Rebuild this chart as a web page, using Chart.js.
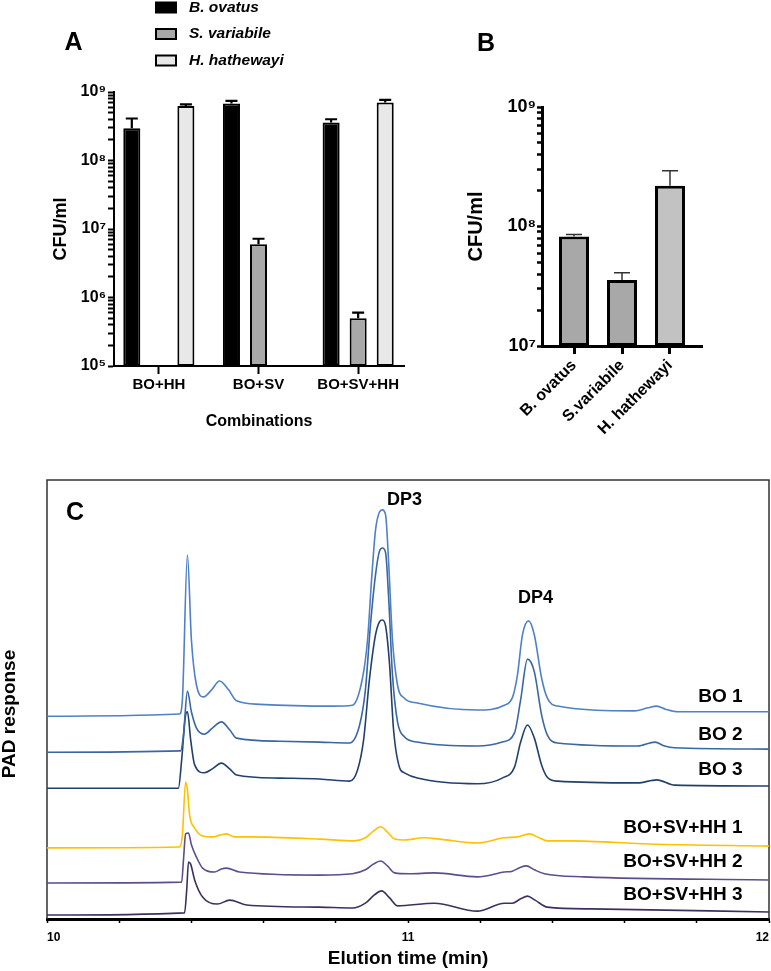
<!DOCTYPE html>
<html>
<head>
<meta charset="utf-8">
<script src="https://cdn.jsdelivr.net/npm/chart.js@4.4.1/dist/chart.umd.min.js"></script>
<style>
  html, body { margin: 0; padding: 0; background: #fff; }
  body { width: 771px; height: 971px; position: relative; overflow: hidden; }
  canvas { position: absolute; }
</style>
</head>
<body>
<canvas id="chartA" width="420" height="440" style="left:0;top:0;width:420px;height:440px"></canvas>
<canvas id="chartB" width="351" height="470" style="left:420px;top:0;width:351px;height:470px"></canvas>
<canvas id="chartC" width="771" height="501" style="left:0;top:470px;width:771px;height:501px"></canvas>
<script>
const FONT = "'Liberation Sans', Arial, Helvetica, sans-serif";

// ---- Panel A: co-cultures ----
const combinations = ['BO+HH', 'BO+SV', 'BO+SV+HH'];
const speciesNames = ['B. ovatus', 'S. variabile', 'H. hathewayi'];
const ovatusCfu = [2.95e8, 6.8e8, 3.6e8];
const ovatusErr = [4.1e8, 7.4e8, 4.0e8];
const variabileCfu = [null, 6.0e6, 4.97e5];
const variabileErr = [null, 7.2e6, 6.0e5];
const hathewayiCfu = [6.25e8, null, 7.0e8];
const hathewayiErr = [6.6e8, null, 7.7e8];
const decadesA = [1e5, 1e6, 1e7, 1e8, 1e9];
const decadeLabelsA = ['10⁵', '10⁶', '10⁷', '10⁸', '10⁹'];

// ---- Panel B: mono-cultures ----
const monoNames = ['B. ovatus', 'S.variabile', 'H. hathewayi'];
const monoCfu = [8.24e7, 3.57e7, 2.19e8];
const monoErr = [8.57e7, 4.11e7, 2.93e8];
const decadesB = [1e7, 1e8, 1e9];
const decadeLabelsB = ['10⁷', '10⁸', '10⁹'];

// ---- Panel C: HPAEC-PAD traces [time (min), response] ----
const traceNames = ['BO 1', 'BO 2', 'BO 3', 'BO+SV+HH 1', 'BO+SV+HH 2', 'BO+SV+HH 3'];
const traceBO1 = [[10.000,46.2],[10.367,46.7],[10.375,49.9],[10.389,82.9],[10.400,63.6],[10.414,53.3],[10.434,50.6],[10.456,52.2],[10.478,54.2],[10.503,52.2],[10.525,49.7],[10.589,48.9],[10.791,48.5],[10.846,48.7],[10.874,54.9],[10.888,63.6],[10.899,77.2],[10.910,88.6],[10.921,92.7],[10.929,93.2],[10.938,92.0],[10.946,81.8],[10.957,63.6],[10.971,53.3],[10.990,50.3],[11.026,49.2],[11.192,47.6],[11.267,48.7],[11.290,50.6],[11.303,55.5],[11.317,64.7],[11.334,67.9],[11.350,64.7],[11.370,54.9],[11.386,50.3],[11.414,48.5],[11.628,47.4],[11.664,48.1],[11.689,48.5],[11.713,47.8],[11.747,47.2],[12.000,47.2]];
const traceBO2 = [[10.000,38.0],[10.370,38.3],[10.378,41.9],[10.389,51.9],[10.400,47.2],[10.414,43.5],[10.436,42.1],[10.458,43.5],[10.483,44.9],[10.506,43.1],[10.525,41.2],[10.644,40.5],[10.755,40.3],[10.838,40.1],[10.866,44.2],[10.882,52.2],[10.896,67.0],[10.910,78.4],[10.921,83.8],[10.929,84.5],[10.938,83.4],[10.946,73.8],[10.957,55.6],[10.971,44.9],[10.990,41.5],[11.026,40.3],[11.192,39.4],[11.261,40.3],[11.295,42.4],[11.312,49.9],[11.331,59.2],[11.350,56.3],[11.370,46.5],[11.386,41.9],[11.414,40.1],[11.636,39.4],[11.684,40.3],[11.711,39.4],[11.739,39.0],[12.000,38.7]];
const traceBO3 = [[10.000,29.8],[10.364,29.8],[10.373,36.2],[10.384,46.5],[10.389,47.2],[10.398,40.8],[10.409,35.1],[10.436,33.3],[10.458,34.2],[10.483,35.5],[10.506,34.2],[10.525,32.8],[10.644,32.1],[10.755,31.9],[10.838,31.4],[10.860,33.9],[10.877,40.8],[10.893,54.4],[10.910,64.7],[10.921,67.7],[10.929,68.1],[10.938,66.7],[10.949,57.9],[10.960,43.1],[10.977,34.4],[10.990,33.3],[11.026,32.1],[11.192,30.8],[11.261,32.1],[11.295,34.6],[11.312,40.3],[11.331,44.2],[11.350,41.2],[11.370,35.1],[11.386,32.3],[11.414,31.4],[11.636,31.0],[11.689,31.7],[11.739,30.5],[12.000,30.3]];
const traceMix1 = [[10.000,16.2],[10.367,16.4],[10.375,19.1],[10.384,31.2],[10.389,29.4],[10.395,23.7],[10.409,20.7],[10.431,18.9],[10.458,18.7],[10.478,19.1],[10.497,19.4],[10.519,18.7],[10.561,18.7],[10.755,18.2],[10.852,17.8],[10.882,18.5],[10.904,20.0],[10.924,21.0],[10.943,19.8],[10.963,18.2],[10.990,18.0],[11.046,18.5],[11.087,18.2],[11.192,17.3],[11.267,18.5],[11.303,18.7],[11.336,19.4],[11.363,18.5],[11.386,17.8],[11.447,17.8],[11.669,17.1],[12.000,16.6]];
const traceMix2 = [[10.000,8.2],[10.373,8.4],[10.378,13.4],[10.384,19.4],[10.392,19.6],[10.400,16.9],[10.414,14.1],[10.431,11.6],[10.464,10.7],[10.483,11.4],[10.497,11.6],[10.533,10.7],[10.755,10.0],[10.846,10.3],[10.882,11.2],[10.904,12.5],[10.924,13.2],[10.943,12.1],[10.963,10.5],[11.004,10.3],[11.073,10.5],[11.192,9.6],[11.267,10.7],[11.289,10.9],[11.312,11.8],[11.328,12.1],[11.350,11.2],[11.378,10.3],[11.489,9.6],[12.000,8.9]];
const traceMix3 = [[10.000,0.9],[10.381,1.4],[10.387,6.6],[10.392,13.0],[10.398,12.5],[10.409,8.9],[10.431,5.0],[10.472,3.4],[10.506,4.3],[10.553,3.2],[10.755,2.7],[10.846,2.5],[10.882,3.6],[10.907,5.5],[10.927,6.4],[10.949,4.8],[10.971,3.0],[11.073,3.6],[11.192,1.8],[11.267,3.6],[11.289,3.6],[11.312,4.6],[11.331,5.2],[11.352,4.3],[11.386,2.7],[11.508,2.3],[12.000,1.6]];
const elutionTicks = [10, 10.2, 10.4, 10.6, 10.8, 11, 11.2, 11.4, 11.6, 11.8, 12];
const elutionTickLabels = ['10', '', '', '', '', '11', '', '', '', '', '12'];

// where the series names sit (right edge, in data units)
const traceLabelTime = 11.927;
const traceLabelResp = [50.6, 41.9, 33.9, 20.7, 13.0, 5.5];

function logTicks(decades) {
  const out = [];
  decades.forEach((d, i) => {
    if (i === decades.length - 1) { out.push({value: d}); return; }
    for (let k = 1; k < 10; k++) out.push({value: d * k});
  });
  return out;
}

function asPoints(values) {
  return values.map((v, i) => ({x: i, y: v}));
}

// vertical error bars, only the upper half like in the figure
const errorBars = {
  id: 'errorBars',
  afterDatasetsDraw(chart, args, opts) {
    const ctx = chart.ctx;
    const yScale = chart.scales.y;
    chart.data.datasets.forEach((ds, di) => {
      if (!ds.errorTop) return;
      const meta = chart.getDatasetMeta(di);
      meta.data.forEach((bar, i) => {
        const top = ds.errorTop[i];
        if (top == null || ds.data[i].y == null) return;
        const yTop = yScale.getPixelForValue(top);
        ctx.save();
        ctx.strokeStyle = opts.color;
        ctx.lineWidth = opts.width;
        ctx.beginPath();
        ctx.moveTo(bar.x, bar.y);
        ctx.lineTo(bar.x, yTop);
        ctx.moveTo(bar.x - opts.cap / 2, yTop);
        ctx.lineTo(bar.x + opts.cap / 2, yTop);
        ctx.stroke();
        ctx.restore();
      });
    });
  }
};

// panel letters, legend boxes, frame and free labels
const decor = {
  id: 'decor',
  beforeDatasetsDraw(chart, args, opts) {
    if (!opts.frame) return;
    const {left, right, top, bottom} = chart.chartArea;
    const ctx = chart.ctx;
    ctx.save();
    ctx.strokeStyle = opts.frame.color;
    ctx.lineWidth = opts.frame.width;
    ctx.beginPath();
    ctx.moveTo(left, bottom);
    ctx.lineTo(left, top);
    ctx.lineTo(right, top);
    ctx.lineTo(right, bottom);
    ctx.stroke();
    ctx.restore();
  },
  afterDraw(chart, args, opts) {
    const ctx = chart.ctx;
    if (opts.legend) {
      const lg = opts.legend;
      chart.data.datasets.forEach((ds, i) => {
        const cy = lg.y + i * lg.step;
        ctx.save();
        ctx.fillStyle = '#000';
        ctx.fillRect(lg.x, cy - lg.h / 2, lg.w, lg.h);
        ctx.fillStyle = ds.backgroundColor;
        ctx.fillRect(lg.x + lg.border, cy - lg.h / 2 + lg.border, lg.w - 2 * lg.border, lg.h - 2 * lg.border);
        ctx.fillStyle = '#000';
        ctx.font = lg.font;
        ctx.textAlign = 'left';
        ctx.textBaseline = 'middle';
        ctx.fillText(ds.label, lg.textX, cy);
        ctx.restore();
      });
    }
    (opts.texts || []).forEach(t => {
      let x = t.x, y = t.y;
      if (t.t !== undefined) {
        x = chart.scales.x.getPixelForValue(t.t);
        y = chart.scales.y.getPixelForValue(t.v);
      }
      ctx.save();
      ctx.font = t.font;
      ctx.fillStyle = t.color || '#000';
      ctx.textAlign = t.align || 'center';
      ctx.textBaseline = 'middle';
      ctx.translate(x, y);
      if (t.rotate) ctx.rotate(t.rotate);
      ctx.fillText(t.text, 0, 0);
      ctx.restore();
    });
  }
};

Chart.register(errorBars, decor);

// ---------------- Panel A ----------------
new Chart(document.getElementById('chartA'), {
  type: 'bar',
  data: {
    datasets: [
      {label: speciesNames[0], data: asPoints(ovatusCfu), errorTop: ovatusErr, backgroundColor: '#000000'},
      {label: speciesNames[1], data: asPoints(variabileCfu), errorTop: variabileErr, backgroundColor: '#a9a9a9'},
      {label: speciesNames[2], data: asPoints(hathewayiCfu), errorTop: hathewayiErr, backgroundColor: '#e8e8e8'}
    ]
  },
  options: {
    responsive: false,
    animation: false,
    categoryPercentage: 0.814,
    barPercentage: 0.63,
    borderColor: '#000',
    borderWidth: 2,
    borderSkipped: false,
    layout: {padding: {top: 92, right: 16, left: 0, bottom: 0}},
    plugins: {
      legend: {display: false},
      tooltip: {enabled: false},
      errorBars: {color: '#000', width: 2.2, cap: 12},
      decor: {
        legend: {x: 155, y: 7.5, step: 26.5, w: 22, h: 12, border: 2, textX: 189,
                 font: 'italic bold 15.5px ' + FONT},
        texts: [{text: 'A', x: 73.5, y: 43.5, font: 'bold 25px ' + FONT}]
      }
    },
    scales: {
      x: {
        type: 'linear', min: -0.45, max: 2.46, offset: false,
        afterBuildTicks: s => { s.ticks = combinations.map((c, i) => ({value: i})); },
        afterFit: s => { s.height = 74; s.paddingLeft = 0; s.paddingRight = 0; },
        ticks: {
          callback: v => combinations[v] !== undefined ? combinations[v] : '',
          autoSkip: false, maxRotation: 0, padding: 2, color: '#000',
          font: {family: FONT, size: 15, weight: 'bold'}
        },
        grid: {offset: false, drawOnChartArea: false, tickLength: 8, tickWidth: 2, tickColor: '#000'},
        border: {color: '#000', width: 2},
        title: {display: true, text: 'Combinations', color: '#000',
                font: {family: FONT, size: 16, weight: 'bold'}, padding: {top: 0, bottom: 9}}
      },
      y: {
        type: 'logarithmic', min: 1e5, max: 1e9,
        afterBuildTicks: s => { s.ticks = logTicks(decadesA); },
        afterFit: s => { s.width = 114; s.paddingTop = 0; s.paddingBottom = 0; },
        ticks: {
          callback: v => { const k = decadesA.indexOf(v); return k >= 0 ? decadeLabelsA[k] : ''; },
          autoSkip: false, padding: 2, color: '#000',
          font: {family: FONT, size: 16, weight: 'bold'}
        },
        grid: {drawOnChartArea: false, tickLength: 6, tickWidth: 2, tickColor: '#000'},
        border: {color: '#000', width: 2},
        title: {display: true, text: 'CFU/ml', color: '#000',
                font: {family: FONT, size: 18, weight: 'bold'}, padding: {top: 50, bottom: 0}}
      }
    }
  }
});

// ---------------- Panel B ----------------
new Chart(document.getElementById('chartB'), {
  type: 'bar',
  data: {
    datasets: [{
      label: 'CFU/ml',
      data: asPoints(monoCfu),
      errorTop: monoErr,
      backgroundColor: ['#a8a8a8', '#a8a8a8', '#c2c2c2']
    }]
  },
  options: {
    responsive: false,
    animation: false,
    categoryPercentage: 1,
    barPercentage: 0.625,
    borderColor: '#000',
    borderWidth: 3,
    borderSkipped: false,
    layout: {padding: {top: 107, right: 69, left: 0, bottom: 0}},
    plugins: {
      legend: {display: false},
      tooltip: {enabled: false},
      errorBars: {color: '#333', width: 1.5, cap: 16},
      decor: {texts: [{text: 'B', x: 66, y: 44, font: 'bold 25px ' + FONT}]}
    },
    scales: {
      x: {
        type: 'linear', min: -0.667, max: 2.667, offset: false,
        afterBuildTicks: s => { s.ticks = monoNames.map((c, i) => ({value: i})); },
        afterFit: s => { s.height = 124; s.paddingLeft = 0; s.paddingRight = 0; },
        ticks: {
          callback: v => monoNames[v] !== undefined ? monoNames[v] : '',
          autoSkip: false, minRotation: 45, maxRotation: 45, padding: 2, color: '#000',
          font: {family: FONT, size: 16, weight: 'bold'}
        },
        grid: {offset: false, drawOnChartArea: false, tickLength: 8, tickWidth: 3, tickColor: '#000'},
        border: {color: '#000', width: 3}
      },
      y: {
        type: 'logarithmic', min: 1e7, max: 1e9,
        afterBuildTicks: s => { s.ticks = logTicks(decadesB); },
        afterFit: s => { s.width = 122; s.paddingTop = 0; s.paddingBottom = 0; },
        ticks: {
          callback: v => { const k = decadesB.indexOf(v); return k >= 0 ? decadeLabelsB[k] : ''; },
          autoSkip: false, padding: 1, color: '#000',
          font: {family: FONT, size: 18, weight: 'bold'}
        },
        grid: {drawOnChartArea: false, tickLength: 5, tickWidth: 2.5, tickColor: '#000'},
        border: {color: '#000', width: 3},
        title: {display: true, text: 'CFU/ml', color: '#000',
                font: {family: FONT, size: 20, weight: 'bold'}, padding: {top: 44, bottom: 0}}
      }
    }
  }
});

// ---------------- Panel C ----------------
const traces = [traceBO1, traceBO2, traceBO3, traceMix1, traceMix2, traceMix3];
const traceColors = ['#4f81c7', '#3a66a4', '#22406c', '#ffc000', '#5f4c8c', '#3d3060'];

new Chart(document.getElementById('chartC'), {
  type: 'line',
  data: {
    datasets: traces.map((tr, i) => ({
      label: traceNames[i],
      data: tr.map(p => ({x: p[0], y: p[1]})),
      borderColor: traceColors[i],
      borderWidth: 1.6,
      pointRadius: 0,
      fill: false,
      cubicInterpolationMode: 'monotone'
    }))
  },
  options: {
    responsive: false,
    animation: false,
    layout: {padding: {top: 10, right: 2, left: 47, bottom: 0}},
    plugins: {
      legend: {display: false},
      tooltip: {enabled: false},
      decor: {
        frame: {color: '#333', width: 1.5},
        texts: [
          {text: 'C', x: 75, y: 43, font: 'bold 25px ' + FONT},
          {text: 'DP3', t: 10.99, v: 95.4, font: 'bold 18px ' + FONT},
          {text: 'DP4', t: 11.353, v: 73.1, font: 'bold 18px ' + FONT},
          {text: 'PAD response', x: 9.5, y: 244, rotate: -Math.PI / 2, font: 'bold 19px ' + FONT}
        ].concat(traceNames.map((n, i) => ({
          text: n, t: traceLabelTime, v: traceLabelResp[i], align: 'right', font: 'bold 19px ' + FONT
        })))
      }
    },
    scales: {
      x: {
        type: 'linear', min: 10, max: 12,
        afterBuildTicks: s => { s.ticks = elutionTicks.map(v => ({value: v})); },
        afterFit: s => { s.height = 52; s.paddingLeft = 0; s.paddingRight = 0; },
        ticks: {
          callback: (v, i) => elutionTickLabels[i],
          autoSkip: false, maxRotation: 0, padding: 7, align: 'inner', color: '#000',
          font: {family: FONT, size: 12, weight: 'bold'}
        },
        grid: {drawOnChartArea: false, tickLength: 4, tickWidth: 1.5, tickColor: '#000'},
        border: {color: '#000', width: 3},
        title: {display: true, text: 'Elution time (min)', color: '#000',
                font: {family: FONT, size: 19, weight: 'bold', lineHeight: 1}, padding: {top: 0, bottom: 2.5}}
      },
      y: {type: 'linear', min: 0, max: 100, display: false}
    }
  }
});
</script>
</body>
</html>
